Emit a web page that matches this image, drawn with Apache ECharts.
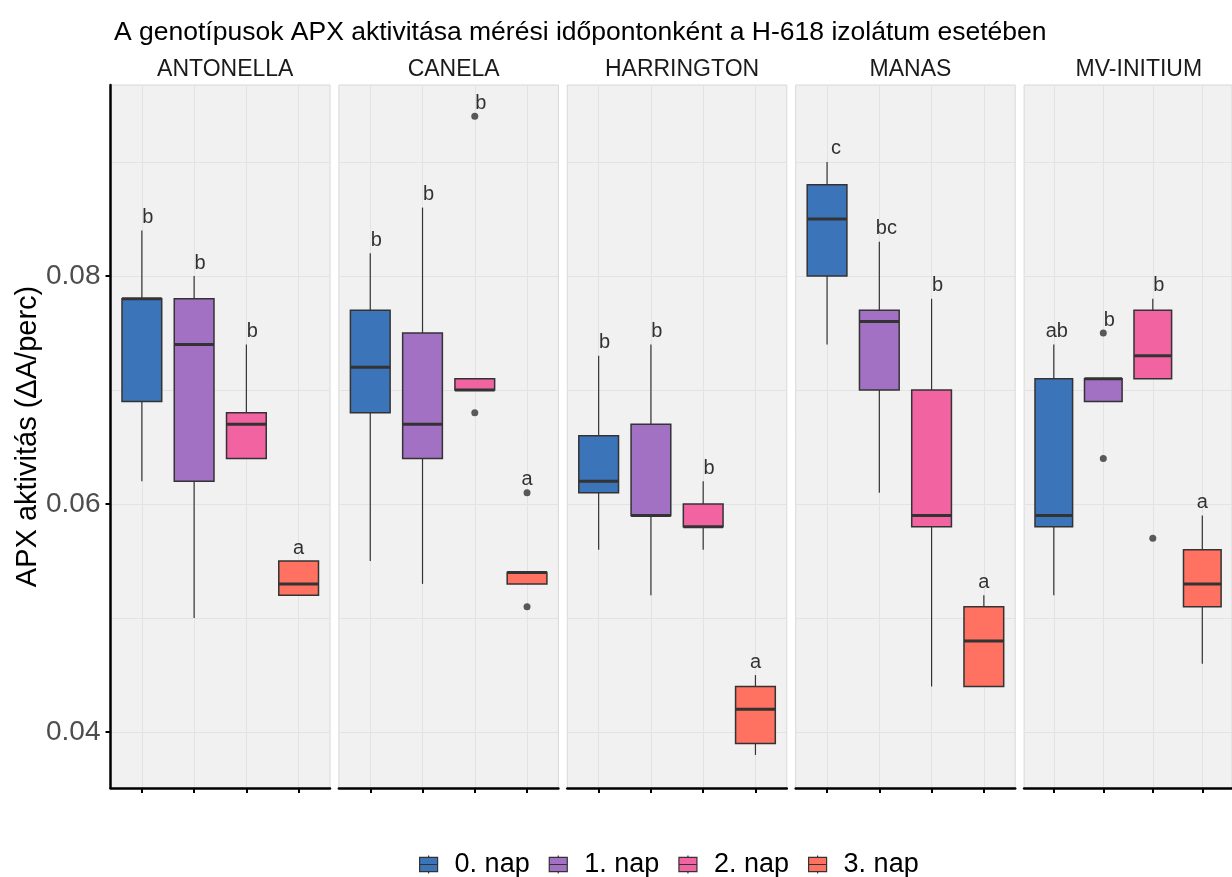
<!DOCTYPE html>
<html>
<head>
<meta charset="utf-8">
<script src="https://cdn.jsdelivr.net/npm/echarts@6/dist/echarts.min.js"></script>
<style>
  html, body { margin: 0; padding: 0; background: #fff; }
  #chart { width: 1232px; height: 877px; }
</style>
</head>
<body>
<div id="chart"></div>
<script>
const genotypes = ['ANTONELLA', 'CANELA', 'HARRINGTON', 'MANAS', 'MV-INITIUM'];
const days = ['0. nap', '1. nap', '2. nap', '3. nap'];
const yTicks = [0.04, 0.06, 0.08];
const yGrid = [0.04, 0.05, 0.06, 0.07, 0.08, 0.09];

// [min, Q1, median, Q3, max], one row per day
const antonella = [
  [0.062, 0.069, 0.078, 0.078, 0.084],
  [0.050, 0.062, 0.074, 0.078, 0.080],
  [0.064, 0.064, 0.067, 0.068, 0.074],
  [0.052, 0.052, 0.053, 0.055, 0.055]
];
const canela = [
  [0.055, 0.068, 0.072, 0.077, 0.082],
  [0.053, 0.064, 0.067, 0.075, 0.086],
  [0.070, 0.070, 0.070, 0.071, 0.071],
  [0.053, 0.053, 0.054, 0.054, 0.054]
];
const harrington = [
  [0.056, 0.061, 0.062, 0.066, 0.073],
  [0.052, 0.059, 0.059, 0.067, 0.074],
  [0.056, 0.058, 0.058, 0.060, 0.062],
  [0.038, 0.039, 0.042, 0.044, 0.045]
];
const manas = [
  [0.074, 0.080, 0.085, 0.088, 0.090],
  [0.061, 0.070, 0.076, 0.077, 0.083],
  [0.044, 0.058, 0.059, 0.070, 0.078],
  [0.044, 0.044, 0.048, 0.051, 0.052]
];
const mvInitium = [
  [0.052, 0.058, 0.059, 0.071, 0.074],
  [0.069, 0.069, 0.071, 0.071, 0.071],
  [0.071, 0.071, 0.073, 0.077, 0.078],
  [0.046, 0.051, 0.053, 0.056, 0.059]
];

// outliers per day
const antonellaOut = [[], [], [], []];
const canelaOut = [[], [], [0.094, 0.068], [0.061, 0.051]];
const harringtonOut = [[], [], [], []];
const manasOut = [[], [], [], []];
const mvInitiumOut = [[], [0.075, 0.064], [0.057], []];

// significance letters per day
const antonellaLetters = ['b', 'b', 'b', 'a'];
const canelaLetters = ['b', 'b', 'b', 'a'];
const harringtonLetters = ['b', 'b', 'b', 'a'];
const manasLetters = ['c', 'bc', 'b', 'a'];
const mvInitiumLetters = ['ab', 'b', 'b', 'a'];

const panels = [
  { stats: antonella, out: antonellaOut, letters: antonellaLetters },
  { stats: canela, out: canelaOut, letters: canelaLetters },
  { stats: harrington, out: harringtonOut, letters: harringtonLetters },
  { stats: manas, out: manasOut, letters: manasLetters },
  { stats: mvInitium, out: mvInitiumOut, letters: mvInitiumLetters }
];

const dayColors = ['#3C74B9', '#A371C3', '#F263A2', '#FF7262'];
const letterNudge = { a: 0, b: 6, c: 9, ab: 3, bc: 7 };

const PANEL_LEFT = 110.5;
const PANEL_STEP = 228.4;
const PANEL_W = 219.5;
const PANEL_TOP = 85;
const PANEL_H = 703;
const Y_MIN = 0.0351;
const Y_MAX = 0.09675;
const FONT = "'Liberation Sans', Arial, sans-serif";

function renderBox (params, api) {
  const x = api.value(0);
  const lo = api.coord([x, api.value(1)]);
  const q1 = api.coord([x, api.value(2)]);
  const md = api.coord([x, api.value(3)]);
  const q3 = api.coord([x, api.value(4)]);
  const hi = api.coord([x, api.value(5)]);
  const w = api.size([0.76, 0])[0];
  const line = { stroke: '#333333', lineWidth: 1.2 };
  return {
    type: 'group',
    children: [
      { type: 'line', shape: { x1: lo[0], y1: lo[1], x2: lo[0], y2: q1[1] }, style: line },
      { type: 'line', shape: { x1: hi[0], y1: q3[1], x2: hi[0], y2: hi[1] }, style: line },
      {
        type: 'rect',
        shape: { x: q3[0] - w / 2, y: q3[1], width: w, height: q1[1] - q3[1] },
        style: { fill: api.visual('color'), stroke: '#333333', lineWidth: 1.5 }
      },
      {
        type: 'line',
        shape: { x1: md[0] - w / 2, y1: md[1], x2: md[0] + w / 2, y2: md[1] },
        style: { stroke: '#333333', lineWidth: 3 }
      }
    ]
  };
}

const grid = [];
const xAxis = [];
const yAxis = [];
const series = [];
const title = [{
  text: 'A genotípusok APX aktivitása mérési időpontonként a H-618 izolátum esetében',
  left: 109,
  top: 14,
  textStyle: { fontSize: 26.5, fontWeight: 'normal', color: '#000000', fontFamily: FONT }
}];

panels.forEach((p, i) => {
  const left = PANEL_LEFT + i * PANEL_STEP;
  grid.push({
    left: left,
    top: PANEL_TOP,
    width: PANEL_W,
    height: PANEL_H,
    show: true,
    backgroundColor: '#F1F1F1',
    borderColor: '#D8D8D8',
    borderWidth: 1
  });
  title.push({
    text: genotypes[i],
    left: left + PANEL_W / 2,
    textAlign: 'center',
    top: 53,
    textStyle: { fontSize: 23, fontWeight: 'normal', color: '#1A1A1A', fontFamily: FONT }
  });
  xAxis.push({
    type: 'value',
    gridIndex: i,
    min: -0.6,
    max: 3.6,
    z: 3,
    axisLine: { show: true, onZero: false, lineStyle: { color: '#000000', width: 2.5 } },
    axisTick: { show: true, customValues: [0, 1, 2, 3], length: 5, lineStyle: { color: '#000000', width: 2 } },
    axisLabel: { show: false },
    splitLine: { show: false }
  });
  yAxis.push({
    type: 'value',
    gridIndex: i,
    min: Y_MIN,
    max: Y_MAX,
    show: i === 0,
    z: 3,
    name: i === 0 ? 'APX aktivitás (ΔA/perc)' : '',
    nameLocation: 'middle',
    nameGap: 57,
    nameTextStyle: { fontSize: 29, color: '#000000', fontFamily: FONT },
    axisLine: { show: true, onZero: false, lineStyle: { color: '#000000', width: 2.5 } },
    axisTick: { show: true, customValues: yTicks, length: 5, lineStyle: { color: '#000000', width: 2 } },
    axisLabel: {
      show: true,
      customValues: yTicks,
      margin: 10,
      fontSize: 28,
      color: '#4D4D4D',
      fontFamily: FONT,
      formatter: v => v.toFixed(2)
    },
    splitLine: { show: false }
  });

  p.stats.forEach((s, d) => {
    const item = {
      type: 'custom',
      name: days[d],
      xAxisIndex: i,
      yAxisIndex: i,
      renderItem: renderBox,
      encode: { x: 0, y: [1, 2, 3, 4, 5] },
      itemStyle: { color: dayColors[d], borderColor: '#333333', borderWidth: 1 },
      z: 2,
      data: [[d].concat(s)]
    };
    if (d === 0) {
      item.markLine = {
        silent: true,
        z: 1,
        symbol: 'none',
        label: { show: false },
        lineStyle: { color: '#E3E3E3', width: 1, type: 'solid' },
        data: yGrid.map(v => ({ yAxis: v })).concat([0, 1, 2, 3].map(v => ({ xAxis: v })))
      };
    }
    series.push(item);
  });

  const outPts = [];
  p.out.forEach((vals, d) => vals.forEach(v => outPts.push([d, v])));
  series.push({
    type: 'scatter',
    xAxisIndex: i,
    yAxisIndex: i,
    symbolSize: 7,
    itemStyle: { color: '#333333' },
    z: 4,
    data: outPts
  });

  series.push({
    type: 'scatter',
    xAxisIndex: i,
    yAxisIndex: i,
    symbolSize: 0,
    z: 4,
    label: {
      show: true,
      position: 'top',
      distance: 3,
      formatter: '{b}',
      fontSize: 20,
      color: '#000000',
      fontFamily: FONT
    },
    data: p.letters.map((l, d) => {
      const top = Math.max.apply(null, [p.stats[d][4]].concat(p.out[d]));
      return { name: l, value: [d, top], label: { offset: [letterNudge[l], 0] } };
    })
  });
});

const chart = echarts.init(document.getElementById('chart'));
chart.setOption({
  animation: false,
  textStyle: { fontFamily: FONT },
  title: title,
  grid: grid,
  xAxis: xAxis,
  yAxis: yAxis,
  legend: {
    data: days,
    left: 414,
    top: 846,
    itemWidth: 18,
    itemHeight: 18,
    itemGap: 19,
    icon: 'path://M0,2H20V18H0Z M0,10H20 M10,0V2 M10,18V20',
    itemStyle: { borderColor: '#333333', borderWidth: 1.2 },
    textStyle: { fontSize: 27, color: '#000000', fontFamily: FONT, padding: [0, 0, 0, 12] }
  },
  series: series
});
</script>
</body>
</html>
